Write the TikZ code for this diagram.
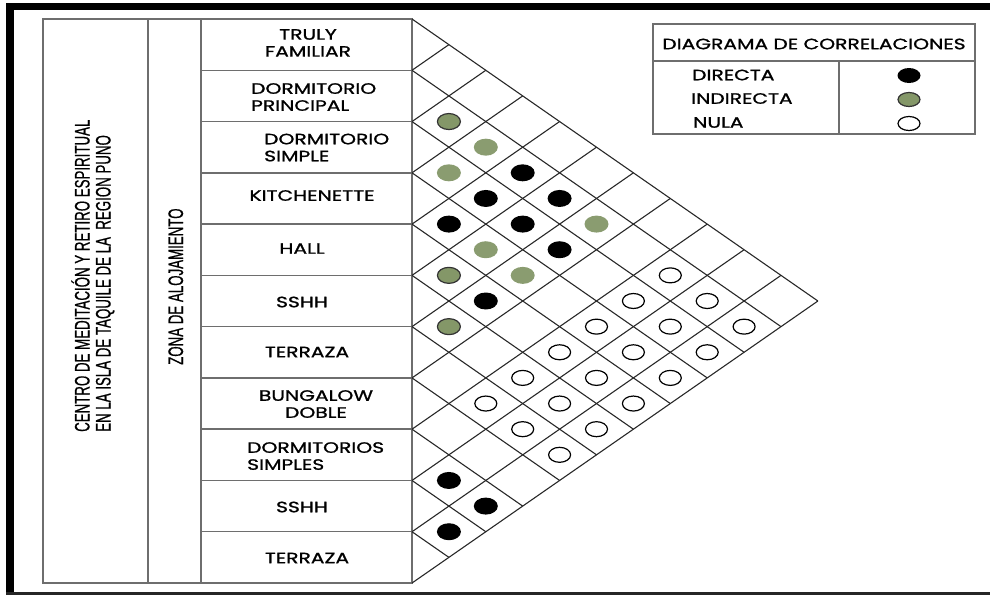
\documentclass[tikz,border=0pt]{standalone}
\usepackage{fontspec}
\newfontfamily\lblfont{Poppins}[FakeStretch=1.35,FakeBold=1.2]
\newfontfamily\condfont{Liberation Sans}[FakeStretch=0.633,FakeBold=0.6]
\definecolor{relgreen}{RGB}{132,151,104}
\definecolor{tablegrey}{RGB}{110,110,110}
\definecolor{gridgrey}{RGB}{40,40,40}
\begin{document}
\begin{tikzpicture}[x=1pt,y=-1pt,
  tabline/.style={draw=tablegrey,line width=1.4pt},
  gridline/.style={draw=gridgrey,line width=1.1pt},
  legline/.style={draw=tablegrey,line width=1.4pt},
  lbl/.style={font=\lblfont\fontsize{15}{17}\selectfont,inner sep=0pt},
  vtext/.style={font=\condfont\fontsize{21}{21}\selectfont,inner sep=0pt,rotate=90,anchor=base west},
  dirdot/.style={fill=black},
  inddot/.style={fill=relgreen,draw=black!80,line width=1.2pt},
  indsoft/.style={fill=relgreen!95!white},
  nuldot/.style={fill=white,draw=black,line width=1.2pt}]
\useasboundingbox (0,0) rectangle (990,595);

% outer frame
\fill[black] (6,3) rectangle (990,10);
\fill[black] (6,3) rectangle (14,595);
\fill[black!85] (6,591.5) rectangle (990,595);

% table of spaces
\draw[tabline] (43,19) rectangle (412,583);
\draw[tabline] (148,19) -- (148,583);
\draw[tabline] (201,19) -- (201,583);
\foreach \k in {1,...,10}
  \draw[tabline] (201,{19+51.273*\k}) -- (412,{19+51.273*\k});

% correlation grid (half diamonds to the right of the table)
\foreach \a in {0,...,10}
  \draw[gridline] (412,{19+51.273*\a}) -- ({412+36.9*(11-\a)},{19+25.636*(\a+11)});
\foreach \b in {1,...,11}
  \draw[gridline] (412,{19+51.273*\b}) -- ({412+36.9*\b},{19+25.636*\b});

% relations: cell between rows i and j
\foreach \i/\j in {1/4,2/4,1/5,3/4,2/5,2/6,4/6,8/9,8/10,9/10}
  \path[dirdot] ({412+36.9*(\j-\i)},{19+25.636*(\i+\j+1)}) ellipse [x radius=12pt,y radius=8.5pt];
\foreach \i/\j in {1/2,4/5,5/6}
  \path[inddot] ({412+36.9*(\j-\i)},{19+25.636*(\i+\j+1)}) ellipse [x radius=11.5pt,y radius=8pt];
\foreach \i/\j in {1/3,2/3,1/6,3/5,3/6}
  \path[indsoft] ({412+36.9*(\j-\i)},{19+25.636*(\i+\j+1)}) ellipse [x radius=12pt,y radius=8.5pt];
\foreach \i/\j in {1/8,2/8,1/9,3/8,2/9,1/10,4/8,3/9,2/10,5/8,4/9,3/10,6/8,5/9,4/10,6/9,5/10,6/10}
  \path[nuldot] ({412+36.9*(\j-\i)},{19+25.636*(\i+\j+1)}) ellipse [x radius=11pt,y radius=7.5pt];

% vertical titles
\node[vtext] (proj1) at (89.5,432) {CENTRO DE MEDITACIÓN Y RETIRO ESPIRITUAL};
\node[vtext] (proj2) at (110.5,432) {EN LA ISLA DE TAQUILE DE LA \ REGION PUNO};
\node[vtext] (zona) at (183,365) {ZONA DE ALOJAMIENTO};

% space names
\node[lbl,align=center,anchor=north] (r0) at (308,29) {TRULY\\FAMILIAR};
\node[lbl,align=left,anchor=north west] (r1) at (251,83) {DORMITORIO\\PRINCIPAL};
\node[lbl,align=left,anchor=north west] (r2) at (264,133.5) {DORMITORIO\\SIMPLE};
\node[lbl] (r3) at (312,195.5) {KITCHENETTE};
\node[lbl] (r4) at (302,248.5) {HALL};
\node[lbl] (r5) at (302,302) {SSHH};
\node[lbl] (r6) at (307,352) {TERRAZA};
\node[lbl,align=center,anchor=north] (r7) at (316,390) {BUNGALOW\\DOBLE};
\node[lbl,align=left,anchor=north west] (r8) at (247,442) {DORMITORIOS\\SIMPLES};
\node[lbl] (r9) at (302,507) {SSHH};
\node[lbl] (r10) at (307,558) {TERRAZA};

% legend
\draw[legline] (653,24) rectangle (975,134);
\draw[legline] (653,61) -- (975,61);
\draw[legline] (839,61) -- (839,134);
\node[lbl] (legtitle) at (814,44) {DIAGRAMA DE CORRELACIONES};
\node[lbl,anchor=west] (legdir) at (692,75) {DIRECTA};
\node[lbl,anchor=west] (legind) at (691,98.5) {INDIRECTA};
\node[lbl,anchor=west] (legnul) at (693,122.5) {NULA};
\path[dirdot] (909,75.5) ellipse [x radius=11.5pt,y radius=7.5pt];
\path[inddot] (909,99.5) ellipse [x radius=11pt,y radius=7pt];
\path[nuldot] (909,123.5) ellipse [x radius=11pt,y radius=7pt];
\end{tikzpicture}
\end{document}
